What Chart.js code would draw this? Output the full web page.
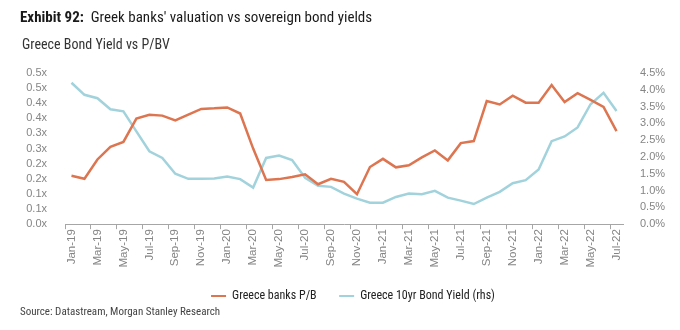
<!DOCTYPE html>
<html>
<head>
<meta charset="utf-8">
<script src="https://cdn.jsdelivr.net/npm/chart.js@4.4.1/dist/chart.umd.min.js"></script>
<style>
    html, body { margin: 0; padding: 0; background: #fff; }
    body { width: 680px; height: 330px; position: relative; overflow: hidden;
           font-family: 'Liberation Sans Narrow', 'Roboto Condensed', 'Arial Narrow', 'Liberation Sans', sans-serif; }
    #wrap { position: absolute; left: 0; top: 0; width: 680px; height: 330px; }
    .title { position: absolute; left: 20px; top: 8px; font-size: 15px; color: #1a1a1a; white-space: nowrap; }
    .title b { font-weight: bold; }
    .subtitle { position: absolute; left: 22px; top: 36px; font-size: 14px; color: #333; white-space: nowrap; }
    .source { position: absolute; left: 20px; top: 305px; font-size: 11px; color: #444; white-space: nowrap; }
</style>
</head>
<body>
<div id="wrap"><canvas id="chart" width="680" height="330"></canvas></div>
<div class="title"><b>Exhibit 92:</b>&nbsp; Greek banks' valuation vs sovereign bond yields</div>
<div class="subtitle">Greece Bond Yield vs P/BV</div>
<div class="source">Source: Datastream, Morgan Stanley Research</div>
<script>
/*global Chart*/
(function () {
    "use strict";

    var FONT = "'Liberation Sans Narrow', 'Roboto Condensed', 'Arial Narrow', 'Liberation Sans', sans-serif";
    var AXIS_FONT = "'Liberation Sans', Arial, sans-serif";

    // monthly, Jan-19 .. Jul-22
    var months = [
        "Jan-19", "Feb-19", "Mar-19", "Apr-19", "May-19", "Jun-19", "Jul-19", "Aug-19", "Sep-19", "Oct-19", "Nov-19", "Dec-19",
        "Jan-20", "Feb-20", "Mar-20", "Apr-20", "May-20", "Jun-20", "Jul-20", "Aug-20", "Sep-20", "Oct-20", "Nov-20", "Dec-20",
        "Jan-21", "Feb-21", "Mar-21", "Apr-21", "May-21", "Jun-21", "Jul-21", "Aug-21", "Sep-21", "Oct-21", "Nov-21", "Dec-21",
        "Jan-22", "Feb-22", "Mar-22", "Apr-22", "May-22", "Jun-22", "Jul-22"
    ];

    // Greece banks P/B (x, lhs)
    var banksPB = [
        0.160, 0.150, 0.214, 0.256, 0.272, 0.349, 0.362, 0.359, 0.343, 0.362, 0.381, 0.383,
        0.386, 0.366, 0.250, 0.146, 0.149, 0.156, 0.165, 0.132, 0.150, 0.140, 0.099, 0.189,
        0.216, 0.188, 0.195, 0.221, 0.244, 0.211, 0.268, 0.275, 0.407, 0.396, 0.425, 0.402,
        0.402, 0.460, 0.404, 0.433, 0.411, 0.388, 0.308
    ];

    // Greece 10yr bond yield (%, rhs)
    var bondYield = [
        4.21, 3.85, 3.75, 3.42, 3.36, 2.76, 2.17, 1.97, 1.50, 1.35, 1.35, 1.36,
        1.42, 1.34, 1.09, 1.97, 2.04, 1.91, 1.38, 1.14, 1.11, 0.91, 0.76, 0.64,
        0.64, 0.81, 0.91, 0.89, 0.99, 0.79, 0.70, 0.60, 0.79, 0.96, 1.22, 1.31,
        1.63, 2.47, 2.61, 2.88, 3.57, 3.91, 3.37
    ];

    var pbTicks = [0, 0.05, 0.1, 0.15, 0.2, 0.25, 0.3, 0.35, 0.4, 0.45, 0.5];
    var yieldTicks = [0, 0.5, 1, 1.5, 2, 2.5, 3, 3.5, 4, 4.5];

    var ORANGE = "#DD7550";
    var BLUE = "#A2D3DC";
    var GREY = "#858585";

    var ctx = document.getElementById("chart");
    new Chart(ctx, {
        type: "line",
        data: {
            labels: months,
            datasets: [{
                label: "Greece banks P/B",
                data: banksPB,
                yAxisID: "y",
                borderColor: ORANGE,
                backgroundColor: ORANGE,
                borderWidth: 2.5,
                pointRadius: 0,
                tension: 0
            }, {
                label: "Greece 10yr Bond Yield (rhs)",
                data: bondYield,
                yAxisID: "y1",
                borderColor: BLUE,
                backgroundColor: BLUE,
                borderWidth: 2.5,
                pointRadius: 0,
                tension: 0
            }]
        },
        options: {
            responsive: false,
            animation: false,
            devicePixelRatio: 1,
            // left padding only nudges the legend right; the y axis width makes up for it
            layout: { padding: { top: 73, bottom: 18, left: 26, right: 0 } },
            plugins: {
                tooltip: { enabled: false },
                legend: {
                    position: "bottom",
                    labels: {
                        font: { family: FONT, size: 12 },
                        color: "#222",
                        boxWidth: 15,
                        boxHeight: 2,
                        padding: 22.5,
                        generateLabels: function (chart) {
                            var items = Chart.defaults.plugins.legend.labels.generateLabels(chart);
                            items.forEach(function (it) { it.lineWidth = 0; });
                            return items;
                        }
                    }
                }
            },
            scales: {
                x: {
                    offset: true,
                    border: { display: true, color: "#a6a6a6", width: 1 },
                    grid: {
                        offset: true,
                        drawOnChartArea: false,
                        drawTicks: true,
                        tickLength: 5,
                        color: function (c) { return c.index % 2 === 0 ? "#a6a6a6" : "rgba(0,0,0,0)"; }
                    },
                    ticks: {
                        autoSkip: false,
                        maxRotation: 90,
                        minRotation: 90,
                        color: GREY,
                        font: { family: AXIS_FONT, size: 11.5 },
                        padding: 0,
                        callback: function (v, i) { return i % 2 === 0 ? months[i] : ""; }
                    }
                },
                y: {
                    position: "left",
                    min: pbTicks[0],
                    max: pbTicks[pbTicks.length - 1],
                    afterBuildTicks: function (s) { s.ticks = pbTicks.map(function (v) { return { value: v }; }); },
                    afterFit: function (s) { s.width = 39; },
                    border: { display: false },
                    grid: { display: false },
                    ticks: {
                        autoSkip: false,
                        color: GREY,
                        padding: 10,
                        font: { family: AXIS_FONT, size: 11 },
                        callback: function (v) { return (Math.round(v * 10 + 1e-6) / 10).toFixed(1) + "x"; }
                    }
                },
                y1: {
                    position: "right",
                    min: yieldTicks[0],
                    max: yieldTicks[yieldTicks.length - 1],
                    afterBuildTicks: function (s) { s.ticks = yieldTicks.map(function (v) { return { value: v }; }); },
                    afterFit: function (s) { s.width = 57; },
                    border: { display: false },
                    grid: { display: false },
                    ticks: {
                        autoSkip: false,
                        color: GREY,
                        padding: 9,
                        font: { family: AXIS_FONT, size: 11 },
                        callback: function (v) { return v.toFixed(1) + "%"; }
                    }
                }
            }
        }
    });
}());
</script>
</body>
</html>
